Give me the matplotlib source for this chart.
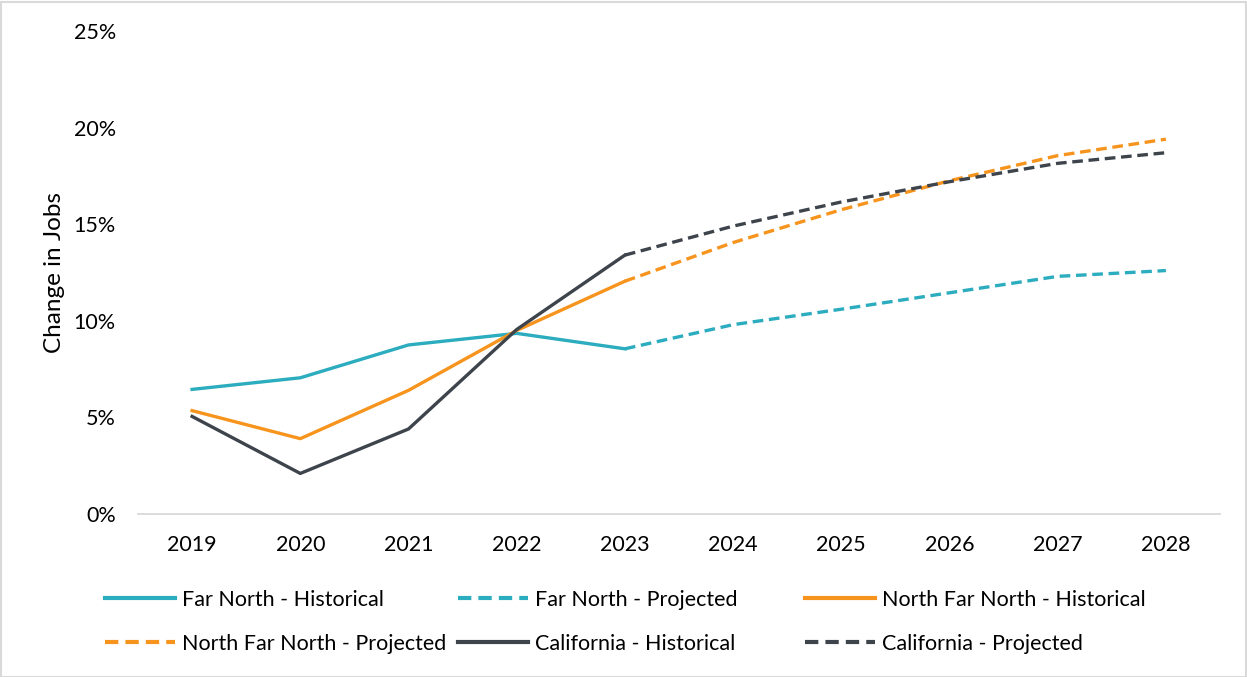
import matplotlib
matplotlib.use("Agg")
import matplotlib.pyplot as plt
from matplotlib.patches import Rectangle

plt.rcParams['font.family'] = ['Lato', 'DejaVu Sans']

hist_years = ["2019", "2020", "2021", "2022", "2023"]
proj_years = ["2023", "2024", "2025", "2026", "2027", "2028"]
all_years = ["2019", "2020", "2021", "2022", "2023", "2024", "2025", "2026", "2027", "2028"]

far_north_hist = [6.45, 7.05, 8.75, 9.35, 8.55]
far_north_proj = [8.55, 9.8, 10.6, 11.45, 12.3, 12.6]
nfn_hist = [5.35, 3.9, 6.4, 9.5, 12.05]
nfn_proj = [12.05, 14.05, 15.75, 17.25, 18.55, 19.4]
ca_hist = [5.05, 2.1, 4.4, 9.55, 13.4]
ca_proj = [13.4, 14.9, 16.15, 17.2, 18.15, 18.7]

y_ticks = [0, 5, 10, 15, 20, 25]
y_ticklabels = ["0%", "5%", "10%", "15%", "20%", "25%"]

c_teal = "#2BACBF"
c_orange = "#F7941D"
c_dark = "#3E444C"
lw = 2.4
dash = (0, (3.2, 1.7))

W, H = 1247, 677
fig = plt.figure(figsize=(W / 100, H / 100), dpi=100)
ax = fig.add_axes([138 / W, 1 - 514 / H, (1220 - 138) / W, (514 - 31) / H])

xpos = {y: i for i, y in enumerate(all_years)}
hx = [xpos[y] for y in hist_years]
px = [xpos[y] for y in proj_years]

l1, = ax.plot(hx, far_north_hist, color=c_teal, lw=lw, label="Far North - Historical")
l2, = ax.plot(px, far_north_proj, color=c_teal, lw=lw, ls=dash, label="Far North - Projected")
l3, = ax.plot(hx, nfn_hist, color=c_orange, lw=lw, label="North Far North - Historical")
l4, = ax.plot(px, nfn_proj, color=c_orange, lw=lw, ls=dash, label="North Far North - Projected")
l5, = ax.plot(hx, ca_hist, color=c_dark, lw=lw, label="California - Historical")
l6, = ax.plot(px, ca_proj, color=c_dark, lw=lw, ls=dash, label="California - Projected")

ax.set_xlim(-0.5, len(all_years) - 0.5)
ax.set_ylim(0, 25)
ax.set_xticks(range(len(all_years)))
ax.set_xticklabels(all_years)
ax.set_yticks(y_ticks)
ax.set_yticklabels(y_ticklabels)
ax.tick_params(axis='both', length=0, labelsize=15.5, colors="#000000")
ax.tick_params(axis='x', pad=15)
ax.tick_params(axis='y', pad=16)
for s in ["top", "right", "left"]:
    ax.spines[s].set_visible(False)
ax.spines["bottom"].set_color("#D9D9D9")
ax.spines["bottom"].set_linewidth(1.3)
ax.set_ylabel("Change in Jobs", fontsize=17.5, labelpad=6)

legend_cols = [([l1, l4], 105), ([l2, l5], 458), ([l3, l6], 805)]
for handles, xl in legend_cols:
    leg = fig.legend(handles=handles, loc="upper left",
                     bbox_to_anchor=(xl / W, 1 - 590 / H),
                     frameon=False, fontsize=15.5, handlelength=3.25,
                     handletextpad=0.33, labelspacing=1.1,
                     borderpad=0, borderaxespad=0)
    for h in leg.get_lines():
        h.set_linewidth(3.0)

fig.patches.append(Rectangle((0.5 / W, 0.5 / H), 1 - 2 / W, 1 - 2 / H,
                             transform=fig.transFigure, fill=False,
                             edgecolor="#D9D9D9", lw=1.5))

fig.savefig("out.png", dpi=100)
